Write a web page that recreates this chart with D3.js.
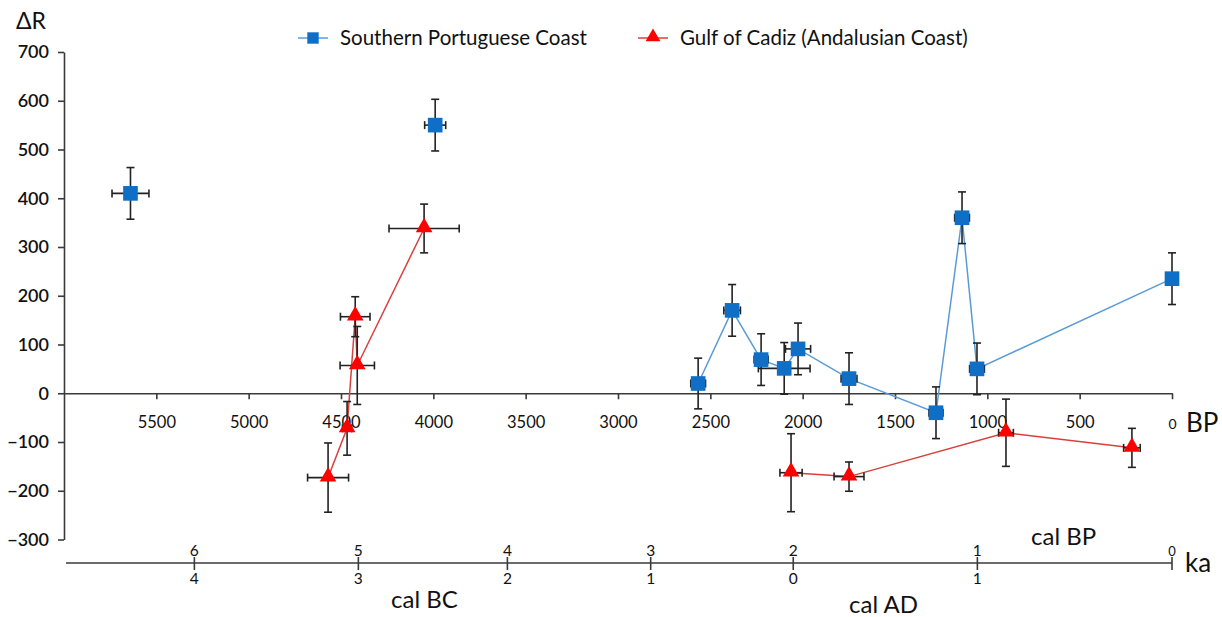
<!DOCTYPE html>
<html><head><meta charset="utf-8">
<script src="https://cdn.jsdelivr.net/npm/d3@7"></script>
<style>
html,body{margin:0;padding:0;background:#fff;}
text{font-family:Lato,"Open Sans",sans-serif;fill:#111;}
</style></head>
<body><svg id="c" width="1222" height="617"></svg>
<script>
// ---- data ----
const seriesNames = ["Southern Portuguese Coast", "Gulf of Cadiz (Andalusian Coast)"];
// Southern Portuguese Coast
const blueBP   = [5640, 3990, 2566, 2382, 2225, 2100, 2025, 1749, 1278, 1137, 1056, 0];
const blueDR   = [410, 550, 20, 170, 69, 51, 91, 30, -40, 360, 50, 235];
const blueErrX = [100, 57, 40, 45, 38, 140, 68, 43, 38, 40, 40, 0];
const blueErrY = [53, 53, 52, 53, 53, 53, 53, 53, 53, 53, 53, 53];
const blueSeg  = [0, 1, 2, 2, 2, 2, 2, 2, 2, 2, 2, 2];
// Gulf of Cadiz
const redBP   = [4570, 4467, 4423, 4412, 4050, 2063, 1749, 899, 217];
const redDR   = [-173, -72, 157, 57, 338, -163, -171, -81, -112];
const redErrX = [111, 25, 80, 93, 190, 60, 81, 40, 45];
const redErrY = [71, 55, 41, 80, 50, 80, 30, 69, 40];
const redSeg  = [0, 0, 0, 0, 0, 1, 1, 1, 1];
// axes
const yTicks = [-300, -200, -100, 0, 100, 200, 300, 400, 500, 600, 700];
const xTicks = [5500, 5000, 4500, 4000, 3500, 3000, 2500, 2000, 1500, 1000, 500, 0];
// ka axis: positions expressed in the BP axis units
const kaPosBP = [5294, 4406, 3599, 2823, 2051, 1054, 0];
const kaTopLabels = ["6", "5", "4", "3", "2", "1", "0"];
const kaBottomLabels = ["4", "3", "2", "1", "0", "1", ""];

// ---- chart ----
const svg = d3.select("#c");
const x = d3.scaleLinear().domain([6000, 0]).range([64, 1172]);
const y = d3.scaleLinear().domain([-300, 700]).range([539.5, 52]);
const axisCol = "#3a3a3a";

// Y axis
const gy = svg.append("g").attr("transform", `translate(${x(6000)},0)`)
  .call(d3.axisLeft(y).tickValues(yTicks).tickFormat(d3.format("d")).tickSize(6).tickPadding(9).tickSizeOuter(0));
gy.select(".domain").attr("stroke", axisCol).attr("stroke-width", 1.6);
gy.selectAll(".tick line").attr("stroke", axisCol).attr("stroke-width", 1.6);
gy.selectAll(".tick text").style("font-size", "18px").style("font-weight", "600").attr("fill", "#111");

// X axis at y=0
const gx = svg.append("g").attr("transform", `translate(0,${y(0)})`)
  .call(d3.axisBottom(x).tickValues(xTicks).tickFormat(d3.format("d")).tickSize(6).tickPadding(17).tickSizeOuter(0));
gx.select(".domain").attr("stroke", axisCol).attr("stroke-width", 1.6);
gx.selectAll(".tick line").attr("stroke", axisCol).attr("stroke-width", 1.6);
gx.selectAll(".tick text").style("font-size", d => d === 0 ? "14px" : "16.5px").attr("fill", "#111")
  .attr("dy", d => d === 0 ? "0.9em" : "0.71em");

// ka axis
const kaY = 563;
svg.append("line").attr("x1", 66).attr("x2", x(0)).attr("y1", kaY).attr("y2", kaY)
  .attr("stroke", axisCol).attr("stroke-width", 1.6);
const ka = svg.append("g");
kaPosBP.forEach((p, i) => {
  ka.append("line").attr("x1", x(p)).attr("x2", x(p)).attr("y1", kaY - 6).attr("y2", kaY + 7)
    .attr("stroke", axisCol).attr("stroke-width", 1.6);
  ka.append("text").attr("x", x(p)).attr("y", kaY - 7).attr("text-anchor", "middle")
    .style("font-size", i === 6 ? "13px" : "15.5px").text(kaTopLabels[i]);
  ka.append("text").attr("x", x(p)).attr("y", kaY + 21).attr("text-anchor", "middle")
    .style("font-size", "15.5px").text(kaBottomLabels[i]);
});

// axis titles
svg.append("text").attr("x", 16).attr("y", 29).style("font-size", "23px").text("ΔR");
svg.append("text").attr("x", 1186).attr("y", 432).style("font-size", "26px").text("BP");
svg.append("text").attr("x", 1185).attr("y", 572).style("font-size", "26px").text("ka");
svg.append("text").attr("x", 1031).attr("y", 545).style("font-size", "24px").text("cal BP");
svg.append("text").attr("x", 391).attr("y", 608).style("font-size", "24px").text("cal BC");
svg.append("text").attr("x", 849).attr("y", 613).style("font-size", "24px").text("cal AD");

// series
const blue = blueBP.map((b, i) => ({bp: b, dr: blueDR[i], ex: blueErrX[i], ey: blueErrY[i], seg: blueSeg[i]}));
const red = redBP.map((b, i) => ({bp: b, dr: redDR[i], ex: redErrX[i], ey: redErrY[i], seg: redSeg[i]}));
const line = d3.line().x(d => x(d.bp)).y(d => y(d.dr));

function drawLines(data, col) {
  for (const [, pts] of d3.group(data, d => d.seg)) {
    if (pts.length > 1) svg.append("path").attr("d", line(pts)).attr("fill", "none")
      .attr("stroke", col).attr("stroke-width", 1.5);
  }
}
drawLines(blue, "#5b9bd5");
drawLines(red, "#d8403c");

function drawErr(data) {
  const g = svg.append("g").attr("stroke", "#222").attr("stroke-width", 1.6);
  const cap = 4;
  data.forEach(d => {
    const cx = x(d.bp), cy = y(d.dr);
    if (d.ey > 0) {
      g.append("line").attr("x1", cx).attr("x2", cx).attr("y1", y(d.dr + d.ey)).attr("y2", y(d.dr - d.ey));
      g.append("line").attr("x1", cx - cap).attr("x2", cx + cap).attr("y1", y(d.dr + d.ey)).attr("y2", y(d.dr + d.ey));
      g.append("line").attr("x1", cx - cap).attr("x2", cx + cap).attr("y1", y(d.dr - d.ey)).attr("y2", y(d.dr - d.ey));
    }
    if (d.ex > 0) {
      const x1 = x(d.bp + d.ex), x2 = x(d.bp - d.ex);
      g.append("line").attr("x1", x1).attr("x2", x2).attr("y1", cy).attr("y2", cy);
      g.append("line").attr("x1", x1).attr("x2", x1).attr("y1", cy - cap).attr("y2", cy + cap);
      g.append("line").attr("x1", x2).attr("x2", x2).attr("y1", cy - cap).attr("y2", cy + cap);
    }
  });
}
drawErr(blue);
drawErr(red);

const sq = d3.symbol().type(d3.symbolSquare).size(215);
const tri = d3.symbol().type(d3.symbolTriangle).size(120);
svg.append("g").selectAll("path").data(blue).join("path")
  .attr("transform", d => `translate(${x(d.bp)},${y(d.dr)})`).attr("d", sq).attr("fill", "#0f6fc6");
svg.append("g").selectAll("path").data(red).join("path")
  .attr("transform", d => `translate(${x(d.bp)},${y(d.dr) - 1})`).attr("d", tri).attr("fill", "#ff0000");

// legend
const leg = svg.append("g");
const legItems = [
  {x: 298, col: "#5b9bd5", mcol: "#0f6fc6"},
  {x: 638, col: "#d8403c", mcol: "#ff0000"}
];
legItems.forEach((it, i) => {
  leg.append("line").attr("x1", it.x).attr("x2", it.x + 30).attr("y1", 38).attr("y2", 38)
    .attr("stroke", it.col).attr("stroke-width", 1.5);
  leg.append("path").attr("transform", `translate(${it.x + 15},${i === 1 ? 37 : 38})`)
    .attr("d", i === 0 ? d3.symbol().type(d3.symbolSquare).size(130)() : d3.symbol().type(d3.symbolTriangle).size(95)())
    .attr("fill", it.mcol);
  leg.append("text").attr("x", it.x + 42).attr("y", 45).style("font-size", "20.5px").text(seriesNames[i]);
});
</script></body></html>
